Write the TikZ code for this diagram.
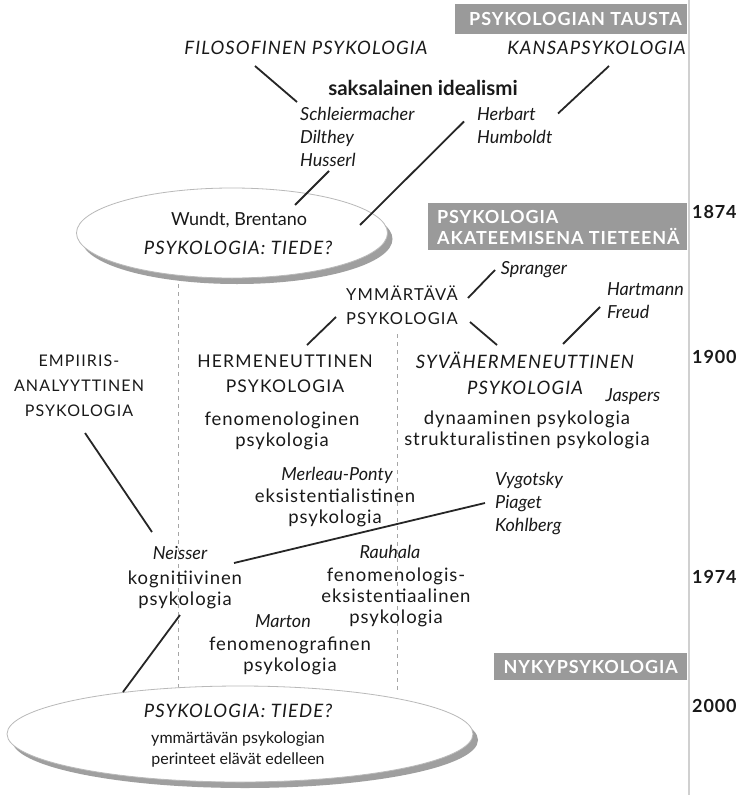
\documentclass[tikz,border=0pt]{standalone}
\usepackage{fontspec}
\setmainfont{Lato}
\usetikzlibrary{shapes.geometric,shadows}
\definecolor{boxgray}{HTML}{9A9A9A}
\definecolor{rulegray}{HTML}{D0D0D0}
\begin{document}
\begin{tikzpicture}[x=1pt,y=-1pt,
  caps/.style={font=\fontsize{17.5}{25}\selectfont\addfontfeatures{LetterSpace=7}, align=center, inner sep=0pt, text=black!90},
  capsit/.style={font=\fontsize{18.5}{26}\selectfont\itshape\addfontfeatures{LetterSpace=6}, align=center, inner sep=0pt, text=black!90},
  hw/.style={font=\fontsize{18.5}{21}\selectfont\addfontfeatures{LetterSpace=5}, align=center, inner sep=0pt, text=black!90},
  nm/.style={font=\fontsize{18}{23}\selectfont\itshape, align=left, inner sep=0pt, text=black!90},
  gill/.style={font=\fontsize{18}{20}\selectfont, align=center, inner sep=0pt, text=black!90},
  small/.style={font=\fontsize{16}{21}\selectfont, align=center, inner sep=0pt, text=black!90},
  bandtext/.style={font=\fontsize{18}{21}\selectfont\bfseries\addfontfeatures{LetterSpace=5}, text=white, inner sep=0pt, align=left},
  band/.style={fill=boxgray, draw=none},
  year/.style={font=\fontsize{18}{20}\selectfont\bfseries\addfontfeatures{LetterSpace=5}, anchor=west, inner sep=0pt, text=black!90},
  conn/.style={line width=1.8pt, draw=black!85},
  era/.style={draw=gray!70, line width=1pt, dash pattern=on 4pt off 4pt},
  oval/.style={ellipse, draw=gray!55, line width=0.8pt, fill=white, inner sep=0pt,
    drop shadow={shadow xshift=5pt, shadow yshift=-6pt, fill=gray!75, opacity=1}}
]
\useasboundingbox[fill=white] (0,0) rectangle (740,795);

% time axis
\draw[rulegray, line width=2pt] (689,0) -- (689,795);
\node[year] (y1874) at (692,212) {1874};
\node[year] (y1900) at (692,357) {1900};
\node[year] (y1974) at (692,577) {1974};
\node[year] (y2000) at (692,706) {2000};

% era bands
\node[band, minimum width=232pt, minimum height=30pt, anchor=north west] (tausta) at (455,4) {};
\node[bandtext, anchor=east] (taustat) at (682,19) {PSYKOLOGIAN TAUSTA};
\node[band, minimum width=259pt, minimum height=47pt, anchor=north west] (akat) at (428,203) {};
\node[bandtext, anchor=west] (akatt) at (437,227) {PSYKOLOGIA\\AKATEEMISENA TIETEENÄ};
\node[band, minimum width=193pt, minimum height=27pt, anchor=north west] (nyky) at (494,653) {};
\node[bandtext] (nykyt) at (nyky.center) {NYKYPSYKOLOGIA};

% dashed era lines
\coordinate (d1a) at (178,268);
\coordinate (d1b) at (178,692);
\coordinate (d2a) at (397,334);
\coordinate (d2b) at (397,692);
\draw[era] (d1a) -- (d1b);
\draw[era] (d2a) -- (d2b);

% top ellipse
\node[oval, minimum width=311pt, minimum height=90pt] (wundtell) at (232,233) {};
\node[gill] (wundt) at (239,220) {Wundt, Brentano};
\node[capsit] (tiede1) at (238,248) {PSYKOLOGIA: TIEDE?};

% bottom ellipse
\node[oval, minimum width=466pt, minimum height=96pt] (nowell) at (240,734) {};
\node[capsit] (tiede2) at (238,711) {PSYKOLOGIA: TIEDE?};
\node[small] (perinteet) at (238,749) {ymmärtävän psykologian\\perinteet elävät edelleen};

% background
\node[capsit] (filo) at (306,48) {FILOSOFINEN PSYKOLOGIA};
\node[capsit, anchor=east] (kansa) at (686,48) {KANSAPSYKOLOGIA};
\node[font=\fontsize{20.5}{24}\selectfont\bfseries, inner sep=0pt, text=black!90] (saks) at (423,88) {saksalainen idealismi};
\node[nm, anchor=west] (schl) at (300,137) {Schleiermacher\\Dilthey\\Husserl};
\node[nm, anchor=west] (herb) at (477,125.5) {Herbart\\Humboldt};

% understanding psychology
\node[caps, font=\fontsize{16.5}{24}\selectfont\addfontfeatures{LetterSpace=7}] (ymm) at (402,305) {YMMÄRTÄVÄ\\PSYKOLOGIA};
\node[nm] (spranger) at (534,270) {Spranger};
\node[nm, anchor=west] (hart) at (607,301) {Hartmann\\Freud};
\node[caps, font=\fontsize{16}{25}\selectfont\addfontfeatures{LetterSpace=7}] (empi) at (79,386) {EMPIIRIS-\\ANALYYTTINEN\\PSYKOLOGIA};
\node[caps] (herm) at (285,374) {HERMENEUTTINEN\\PSYKOLOGIA};
\node[hw] (fenom) at (282,431) {fenomenologinen\\psykologia};
\node[capsit] (syva) at (525,373) {SYVÄHERMENEUTTINEN\\PSYKOLOGIA};
\node[nm] (jaspers) at (633,397) {Jaspers};
\node[hw] (dyn) at (527,430) {dynaaminen psykologia\\strukturalistinen psykologia};
\node[nm] (merleau) at (337,475) {Merleau-Ponty};
\node[hw] (eksist) at (335,508) {eksistentialistinen\\psykologia};
\node[nm, anchor=west] (vyg) at (495,504) {Vygotsky\\Piaget\\Kohlberg};
\node[nm] (neisser) at (180,553) {Neisser};
\node[hw] (kogn) at (185,590) {kognitiivinen\\psykologia};
\node[nm] (rauhala) at (390,552) {Rauhala};
\node[hw] (fenex) at (396,597) {fenomenologis-\\eksistentiaalinen\\psykologia};
\node[nm] (marton) at (283,621) {Marton};
\node[hw] (fenogr) at (290,656) {fenomenografinen\\psykologia};

% connectors
\draw[conn] ([shift={(-51,18)}]filo.center) -- ([shift={(-3,-35)}]schl.west);
\draw[conn] ([shift={(-77,18)}]kansa.east) -- ([shift={(81,-12)}]herb.west);
\draw[conn] ([shift={(29,34)}]schl.west) -- ([shift={(63,-28)}]wundtell.center);
\draw[conn] ([shift={(-13,-4)}]herb.west) -- ([shift={(128,-8)}]wundtell.center);
\draw[conn] ([shift={(66,-7)}]ymm.center) -- ([shift={(-39,0)}]spranger.center);
\draw[conn] ([shift={(-66,12)}]ymm.center) -- ([shift={(22,-29)}]herm.center);
\draw[conn] ([shift={(68,17)}]ymm.center) -- ([shift={(-28,-28)}]syva.center);
\draw[conn] ([shift={(38,-29)}]syva.center) -- ([shift={(-7,6)}]hart.west);
\draw[conn] ([shift={(6,47)}]empi.center) -- ([shift={(-28,-21)}]neisser.center);
\draw[conn] ([shift={(54,10)}]neisser.center) -- ([shift={(-10,-1)}]vyg.west);
\draw[conn] ([shift={(-5,25)}]kogn.center) -- ([shift={(-117,-42)}]nowell.center);
\end{tikzpicture}
\end{document}
